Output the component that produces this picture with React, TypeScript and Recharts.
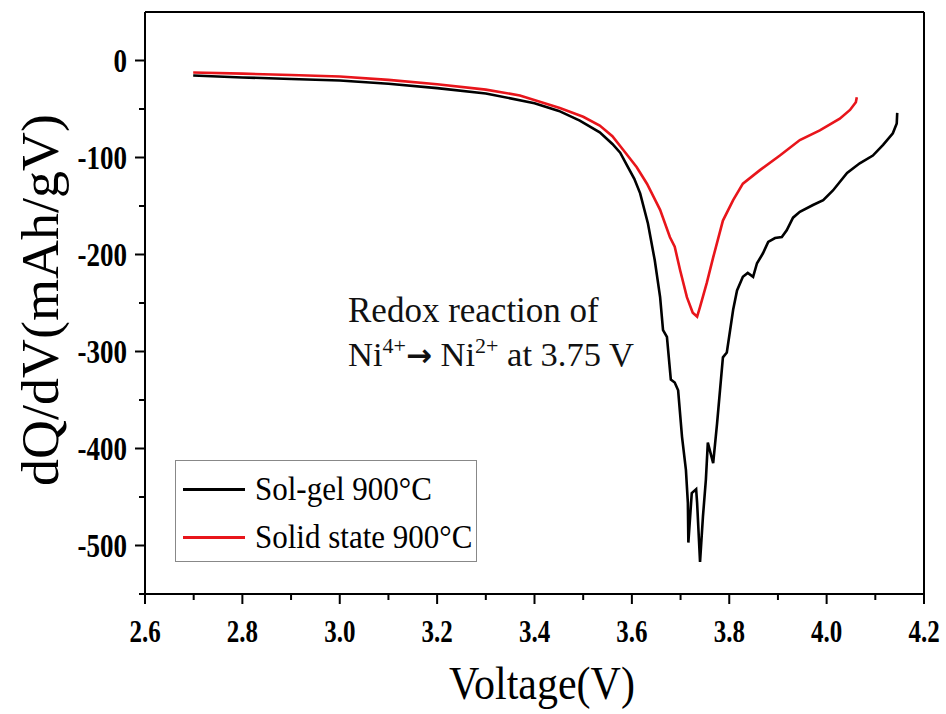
import React from "react";
import { LineChart, Line, XAxis, YAxis, ReferenceLine } from "recharts";

// Sol-gel 900°C (black)
const solGelV = [2.699, 2.8, 2.9, 3.0, 3.1, 3.2, 3.3, 3.4, 3.45, 3.493, 3.534, 3.56, 3.576, 3.59, 3.605, 3.617, 3.633, 3.647, 3.658, 3.664, 3.672, 3.68, 3.688, 3.695, 3.703, 3.711, 3.715, 3.716, 3.723, 3.732, 3.734, 3.74, 3.746, 3.752, 3.756, 3.767, 3.775, 3.787, 3.795, 3.808, 3.816, 3.828, 3.838, 3.849, 3.857, 3.869, 3.88, 3.894, 3.908, 3.918, 3.931, 3.945, 3.972, 3.993, 4.013, 4.042, 4.068, 4.095, 4.116, 4.136, 4.144, 4.145];
const solGelQ = [-15.4, -17.5, -19, -20.6, -24, -28.5, -34, -44, -52, -62, -74, -86, -95, -108, -122, -137, -168, -206, -244, -278, -285, -329, -332, -340, -388, -422, -456, -497, -446, -442, -456, -517, -470, -432, -394, -415, -374, -306, -301, -257, -237, -223, -219, -223, -209, -199, -187, -183, -182, -175, -162, -156, -149, -144, -134, -116, -106, -98, -87, -75, -65, -54];

// Solid state 900°C (red)
const solidV = [2.699, 2.8, 2.9, 3.0, 3.1, 3.2, 3.3, 3.37, 3.452, 3.5, 3.534, 3.56, 3.582, 3.61, 3.631, 3.658, 3.678, 3.688, 3.699, 3.713, 3.725, 3.734, 3.74, 3.754, 3.767, 3.787, 3.808, 3.828, 3.863, 3.904, 3.945, 3.986, 4.027, 4.048, 4.06, 4.062];
const solidQ = [-12.3, -13.5, -15, -16.5, -20, -24.5, -30, -36, -49, -58, -67, -78, -92, -110, -127, -154, -182, -192, -216, -244, -260, -264, -254, -229, -203, -165, -144, -127, -113, -98, -82, -72, -60, -51, -43, -38];

const xTicks = [2.6, 2.7, 2.8, 2.9, 3.0, 3.1, 3.2, 3.3, 3.4, 3.5, 3.6, 3.7, 3.8, 3.9, 4.0, 4.1, 4.2];
const yTicks = [0, -50, -100, -150, -200, -250, -300, -350, -400, -450, -500, -550];

const seriesNames = ["Sol-gel 900°C", "Solid state 900°C"];
const seriesColors = ["#000000", "#e8151b"];

const solGelData = solGelV.map((v, i) => ({ v, q: solGelQ[i] }));
const solidData = solidV.map((v, i) => ({ v, q: solidQ[i] }));

const FONT = "'Liberation Serif', 'Times New Roman', serif";

const XTick = (props: any) => {
  const { x, y, payload } = props;
  const val = payload.value as number;
  const major = Math.round(val * 10) % 2 === 0;
  return (
    <g>
      <line x1={x} y1={y} x2={x} y2={y + (major ? 10 : 6)} stroke="#000" strokeWidth={2} />
      {major && (
        <text transform={`translate(${x},${y + 38}) scale(1,1.25)`} textAnchor="middle" dominantBaseline="central" fontFamily={FONT} fontWeight="bold" fontSize={25} fill="#000">
          {val.toFixed(1)}
        </text>
      )}
    </g>
  );
};

const YTick = (props: any) => {
  const { x, y, payload } = props;
  const val = payload.value as number;
  const major = val % 100 === 0;
  return (
    <g>
      <line x1={x} y1={y} x2={x - (major ? 10 : 6)} y2={y} stroke="#000" strokeWidth={2} />
      {major && (
        <text transform={`translate(${x - 18},${y}) scale(1,1.25)`} textAnchor="end" dominantBaseline="central" fontFamily={FONT} fontWeight="bold" fontSize={27} fill="#000">
          {String(val)}
        </text>
      )}
    </g>
  );
};

export default function App() {
  return (
    <div style={{ position: "absolute", left: 0, top: 0, width: 946, height: 714, background: "#fff" }}>
      <LineChart width={946} height={714} margin={{ top: 12, right: 22, left: 0, bottom: 0 }}>
        <XAxis
          dataKey="v"
          type="number"
          domain={[2.6, 4.2]}
          ticks={xTicks}
          interval={0}
          allowDuplicatedCategory={false}
          height={120}
          tickSize={0}
          tickMargin={0}
          tickLine={false}
          tick={<XTick />}
          axisLine={{ stroke: "#000", strokeWidth: 2 }}
        />
        <YAxis
          dataKey="q"
          type="number"
          domain={[-550, 50]}
          ticks={yTicks}
          interval={0}
          width={145}
          tickSize={0}
          tickMargin={0}
          tickLine={false}
          tick={<YTick />}
          axisLine={{ stroke: "#000", strokeWidth: 2 }}
        />
        <ReferenceLine y={50} stroke="#000" strokeWidth={2} />
        <ReferenceLine x={4.2} stroke="#000" strokeWidth={2} />
        <Line data={solGelData} dataKey="q" name={seriesNames[0]} stroke={seriesColors[0]} strokeWidth={2.6} dot={false} isAnimationActive={false} type="linear" />
        <Line data={solidData} dataKey="q" name={seriesNames[1]} stroke={seriesColors[1]} strokeWidth={2.6} dot={false} isAnimationActive={false} type="linear" />
      </LineChart>
      <div style={{ position: "absolute", left: 175, top: 460, width: 302, height: 102, border: "1.5px solid #888", background: "#fff", boxSizing: "border-box", fontFamily: FONT, fontSize: 31, color: "#000" }}>
        {seriesNames.map((n, i) => (
          <div key={n} style={{ display: "flex", alignItems: "center", height: 48, marginTop: i === 0 ? 4 : 0 }}>
            <div style={{ width: 62, height: 0, borderTop: `3px solid ${seriesColors[i]}`, marginLeft: 7, marginRight: 10 }} />
            <span style={{ whiteSpace: "nowrap", display: "inline-block", transform: "scale(1,1.12)", transformOrigin: "left center" }}>{n}</span>
          </div>
        ))}
      </div>
      <svg width={946} height={714} style={{ position: "absolute", left: 0, top: 0, pointerEvents: "none" }}>
        <text transform="translate(58,300) rotate(-90) scale(1.08,1.05)" textAnchor="middle" fontFamily={FONT} fontSize={50} fill="#000">
          dQ/dV(mAh/gV)
        </text>
        <text transform="translate(542,699) scale(1,1.12)" textAnchor="middle" fontFamily={FONT} fontSize={42} fill="#000">
          Voltage(V)
        </text>
        <text x={348} y={322} fontFamily={FONT} fontSize={35} fill="#111">
          Redox reaction of
        </text>
        <text x={348} y={366} fontFamily={FONT} fontSize={34.5} fill="#111">
          Ni<tspan fontSize={22} dy={-13}>4+</tspan>
          <tspan dy={13} fontFamily="'DejaVu Sans', sans-serif" fontWeight="bold" fontSize={31}>→</tspan> Ni<tspan fontSize={22} dy={-13}>2+</tspan>
          <tspan dy={13}> at 3.75 V</tspan>
        </text>
      </svg>
    </div>
  );
}
